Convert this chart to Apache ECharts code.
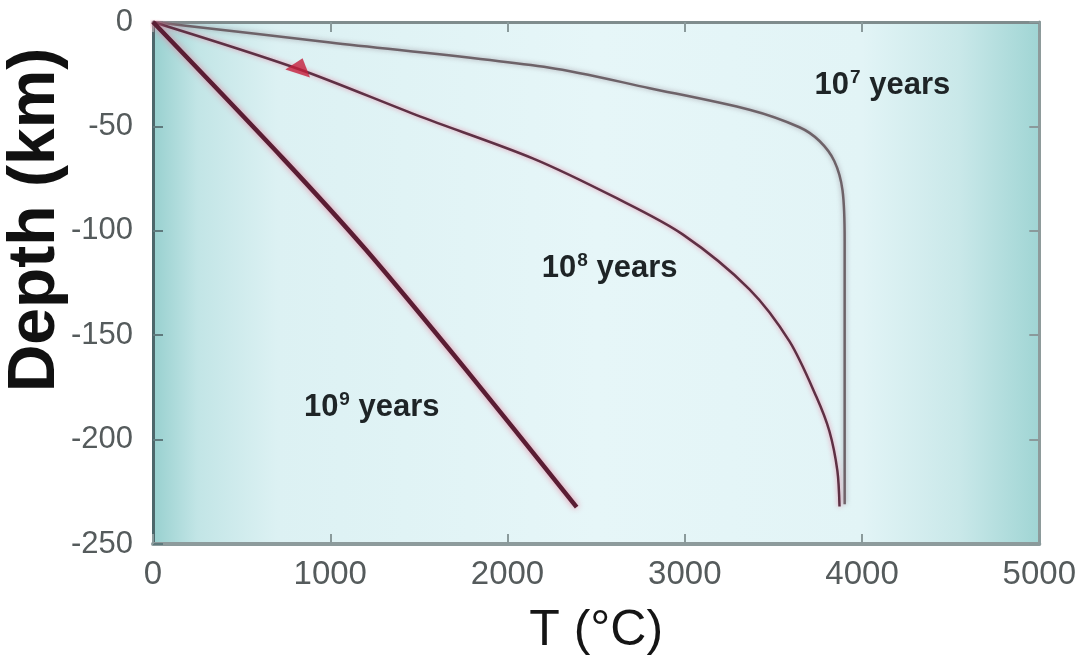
<!DOCTYPE html>
<html>
<head>
<meta charset="utf-8">
<script src="https://cdn.jsdelivr.net/npm/echarts@6/dist/echarts.min.js"></script>
<style>html,body{margin:0;padding:0;background:#fff}#c{width:1079px;height:661px}</style>
</head>
<body>
<div id="c"></div>
<script>
// Temperature (°C) and depth (km)
const t7 = [0, 1000, 2238, 2802, 3365, 3647, 3760, 3844, 3890, 3902, 3902];
const d7 = [0, -9.8, -21.9, -31.7, -42, -50.4, -57, -66.7, -80.7, -105, -231];
const t8 = [0, 817, 1505, 2142, 2616, 2988, 3365, 3591, 3743, 3816, 3861, 3873];
const d8 = [0, -22.4, -45.2, -65.3, -84.4, -101.7, -128, -153, -179.6, -196, -215, -232];
const t9 = [0, 733, 1200, 1770, 2390];
const d9 = [0, -65.3, -109, -167, -232.3];
const arrowT = [830];
const arrowD = [-21];
const curveNames = ['10^7 years', '10^8 years', '10^9 years'];
const labelT = [4115, 2576, 1234];
const labelD = [-30.3, -118, -184.7];
const xTicks = [0, 1000, 2000, 3000, 4000, 5000];
const yTicks = [0, -50, -100, -150, -200, -250];

const pairs = (a, b) => a.map((v, i) => [v, b[i]]);
const font = '"Liberation Sans", Arial, sans-serif';

function labelMark(i) {
  const exp = curveNames[i].match(/\^(\d+)/)[1];
  return {
    symbol: 'circle', symbolSize: 0, silent: true,
    data: [{ coord: [labelT[i], labelD[i]] }],
    label: {
      show: true, position: 'inside',
      formatter: '{b|10}{s|' + exp + '}{b| years}',
      rich: {
        b: { fontFamily: font, fontWeight: 'bold', fontSize: 31, color: '#1e2426' },
        s: { fontFamily: font, fontWeight: 'bold', fontSize: 19, color: '#1e2426', verticalAlign: 'top', padding: [0, 0, 15, 1] }
      }
    }
  };
}

const chart = echarts.init(document.getElementById('c'));
const bg = new echarts.graphic.LinearGradient(0, 0, 1, 0, [
  { offset: 0, color: '#98d0cf' },
  { offset: 0.05, color: '#c2e5e6' },
  { offset: 0.14, color: '#dcf1f3' },
  { offset: 0.5, color: '#e6f6f8' },
  { offset: 0.8, color: '#e2f4f6' },
  { offset: 0.91, color: '#c9e8e9' },
  { offset: 1, color: '#a0d5d4' }
]);
const tickStyle = { show: true, inside: true, length: 10, lineStyle: { color: '#8a9a9b', width: 2 } };

chart.setOption({
  animation: false,
  backgroundColor: '#ffffff',
  grid: { left: 153, top: 22, right: 39, bottom: 103, show: true, backgroundColor: bg, borderWidth: 0 },
  xAxis: [
    {
      type: 'value', min: 0, max: 5000, interval: 1000, position: 'bottom',
      name: 'T (°C)', nameLocation: 'middle', nameGap: 62,
      nameTextStyle: { fontFamily: font, fontSize: 50, color: '#151515' },
      axisLine: { show: true, onZero: false, lineStyle: { color: '#8d9b9c', width: 4 } },
      axisTick: tickStyle,
      axisLabel: { fontFamily: font, fontSize: 33, color: '#555b5c', margin: 14, formatter: v => xTicks.includes(v) ? String(v) : '' },
      splitLine: { show: false }
    },
    {
      type: 'value', min: 0, max: 5000, interval: 1000, position: 'top',
      axisLine: { show: true, onZero: false, lineStyle: { color: '#7f8c8d', width: 3 } },
      axisTick: tickStyle, axisLabel: { show: false }, splitLine: { show: false }
    }
  ],
  yAxis: [
    {
      type: 'value', min: -250, max: 0, interval: 50, position: 'left',
      axisLine: { show: true, onZero: false, lineStyle: { color: '#4d676b', width: 3 } },
      axisTick: { show: true, inside: true, length: 10, lineStyle: { color: '#5f7a7d', width: 2 } },
      axisLabel: { fontFamily: font, fontSize: 31, color: '#555b5c', margin: 20, formatter: v => yTicks.includes(v) ? String(v) : '' },
      splitLine: { show: false }
    },
    {
      type: 'value', min: -250, max: 0, interval: 50, position: 'right',
      axisLine: { show: true, onZero: false, lineStyle: { color: '#8e9b9b', width: 3 } },
      axisTick: tickStyle, axisLabel: { show: false }, splitLine: { show: false }
    }
  ],
  graphic: [{
    type: 'text', rotation: Math.PI / 2, x: 36, y: 220,
    style: { text: 'Depth (km)', x: 0, y: 0, fontFamily: font, fontWeight: 'bold', fontSize: 66, fill: '#111', align: 'center', verticalAlign: 'middle' }
  }],
  series: [
    {
      type: 'line', name: curveNames[0], data: pairs(t7, d7), showSymbol: false, smooth: 0.3,
      lineStyle: { color: '#6d6268', width: 2.5, shadowColor: 'rgba(150,140,150,0.8)', shadowBlur: 5 },
      markPoint: labelMark(0)
    },
    {
      type: 'line', name: curveNames[1], data: pairs(t8, d8), showSymbol: false, smooth: 0.3,
      lineStyle: { color: '#5e3044', width: 2.5, shadowColor: 'rgba(230,130,160,0.9)', shadowBlur: 5 },
      markPoint: labelMark(1)
    },
    {
      type: 'line', name: curveNames[2], data: pairs(t9, d9), showSymbol: false, smooth: 0.3,
      lineStyle: { color: '#5a1d33', width: 4.5, shadowColor: 'rgba(230,120,150,0.9)', shadowBlur: 6 },
      markPoint: labelMark(2)
    },
    {
      type: 'scatter', data: pairs(arrowT, arrowD), symbol: 'triangle', symbolSize: [26, 16], symbolRotate: -18,
      itemStyle: { color: '#c41f3c' }, z: 5
    }
  ]
});
</script>
</body>
</html>
